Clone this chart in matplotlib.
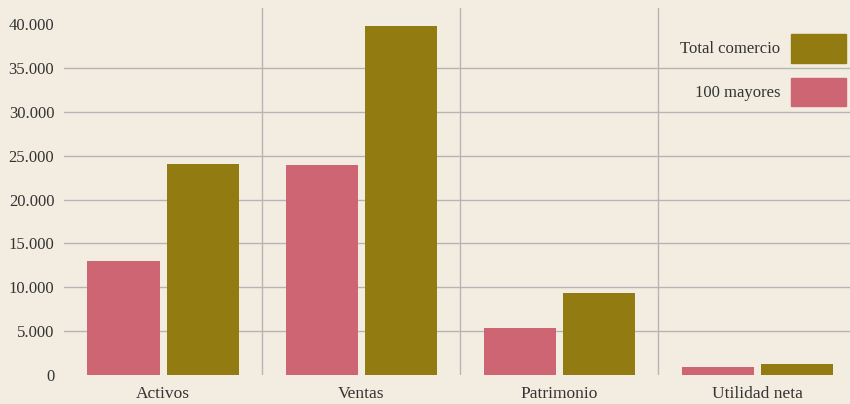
import numpy as np
import matplotlib
matplotlib.use('Agg')
import matplotlib.pyplot as plt
from matplotlib.patches import Patch
from matplotlib.ticker import FuncFormatter

categorias = ['Activos', 'Ventas', 'Patrimonio', 'Utilidad neta']
mayores_100 = [13000, 23900, 5350, 900]
total_comercio = [24050, 39800, 9350, 1250]
yticks = [0, 5000, 10000, 15000, 20000, 25000, 30000, 35000, 40000]

fondo = '#F2EDE0'
rosa = '#CD6573'
oliva = '#927B10'
gris = '#B5B5B5'
texto = '#333333'

plt.rcParams['font.family'] = ['Liberation Serif', 'DejaVu Serif']

fig = plt.figure(figsize=(8.5, 4.04), dpi=100)
fig.patch.set_facecolor(fondo)
ax = fig.add_axes([0.0753, 0.0718, 0.9247, 0.9084])
ax.set_facecolor(fondo)

x = np.arange(len(categorias))
ancho = 0.364
ax.bar(x - 0.2, mayores_100, ancho, color=rosa, zorder=3)
ax.bar(x + 0.2, total_comercio, ancho, color=oliva, zorder=3)

# lineas de la grilla (sin 0 ni 40.000)
for v in yticks[1:-1]:
    ax.axhline(v, color=gris, lw=1.0, zorder=1)
for s in x[:-1] + 0.5:
    ax.axvline(s, color=gris, lw=1.0, zorder=1)

ax.set_xlim(-0.5, 3.467)
ax.set_ylim(0, 41850)
ax.set_yticks(yticks)
ax.yaxis.set_major_formatter(FuncFormatter(lambda v, p: f'{int(v):,}'.replace(',', '.')))
ax.set_xticks(x)
ax.set_xticklabels(categorias)
ax.tick_params(length=0, labelsize=12, colors=texto)
ax.tick_params(axis='y', pad=7)
ax.tick_params(axis='x', labelsize=12.5, pad=8)
for sp in ax.spines.values():
    sp.set_visible(False)

handles = [Patch(color=oliva, label='Total comercio'), Patch(color=rosa, label='100 mayores')]
leg = ax.legend(handles=handles, loc='upper right', bbox_to_anchor=(0.995, 0.929),
                bbox_transform=ax.transAxes, frameon=False, markerfirst=False,
                fontsize=12, handlelength=3.3, handleheight=2.25, handletextpad=0.66,
                labelspacing=0.9, borderpad=0, borderaxespad=0)
for t in leg.get_texts():
    t.set_color(texto)

plt.savefig('out.png', dpi=100, facecolor=fondo)
